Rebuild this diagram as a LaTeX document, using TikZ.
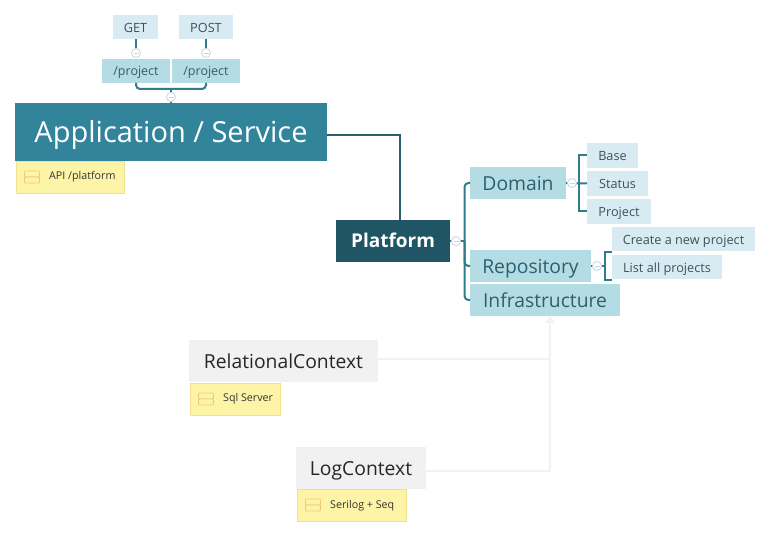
\documentclass[tikz,border=0pt]{standalone}
\usepackage{fontspec}
\setmainfont{Open Sans}
\usetikzlibrary{arrows.meta,calc}
\definecolor{rootc}{HTML}{1F5565}
\definecolor{appc}{HTML}{32849B}
\definecolor{midc}{HTML}{B4DCE5}
\definecolor{lowc}{HTML}{D9EBF2}
\definecolor{greyc}{HTML}{F1F1F2}
\definecolor{notec}{HTML}{FDF4A8}
\definecolor{noteb}{HTML}{F2E08E}
\definecolor{iconc}{HTML}{F2C778}
\definecolor{linec}{HTML}{2E7C8C}
\definecolor{darkl}{HTML}{2A5F70}
\definecolor{textc}{HTML}{2C5F70}
\definecolor{lowt}{HTML}{38545F}
\definecolor{ghost}{HTML}{F1F2F2}
\definecolor{knob}{HTML}{C9D5E2}
\tikzset{
  box/.style={inner sep=0pt,outer sep=0pt,minimum width=#1,text depth=0pt},
  roottopic/.style={box=114pt,minimum height=42pt,text height=13pt,fill=rootc,text=white,font=\fontsize{19}{19}\selectfont\bfseries},
  apptopic/.style={box=312pt,minimum height=58pt,text height=22pt,fill=appc,text=white,font=\fontsize{29}{29}\selectfont},
  midtopic/.style={box=#1,minimum height=32pt,text height=15pt,fill=midc,text=textc,font=\fontsize{19.3}{19.3}\selectfont},
  smalltopic/.style={box=68pt,minimum height=24pt,text height=10pt,fill=midc,text=textc,font=\fontsize{12.5}{12.5}\selectfont},
  leaf/.style={box=#1,text height=10.5pt,fill=lowc,text=lowt,font=\fontsize{12.7}{12.7}\selectfont},
  greytopic/.style={box=#1,minimum height=42pt,text height=15pt,fill=greyc,text=black!85,font=\fontsize{19.3}{19.3}\selectfont},
  notebox/.style={box=#1,minimum height=32pt,fill=notec,draw=noteb,line width=.7pt},
  notetext/.style={inner sep=0pt,text=black!80,font=\fontsize{10.7}{10.7}\selectfont,anchor=base west},
  collapse/.style={circle,inner sep=0pt,minimum size=9pt,draw=knob,fill=white,line width=.8pt,
    path picture={\draw[knob,line width=.8pt] ($(path picture bounding box.center)+(-2.5pt,0)$) -- ($(path picture bounding box.center)+(2.5pt,0)$);}},
  branch/.style={draw=linec,line width=2pt,rounded corners=#1},
  branch/.default=4pt,
  ghostline/.style={draw=ghost,line width=2.2pt},
  iconbar/.style={draw=iconc,fill=notec,line width=.9pt,rounded corners=1pt}
}
\begin{document}
\begin{tikzpicture}[x=1pt,y=-1pt]
\useasboundingbox[fill=white] (0,0) rectangle (772,537);
\coordinate (pb) at (464.5,241);
\coordinate (db) at (579,183);
\coordinate (rb) at (605,266);
\coordinate (ab) at (171,89);
\coordinate (gj) at (550,359);
\coordinate (appout) at (327,135);
\coordinate (appbend) at (400,135);
\coordinate (platin) at (400,220);
\coordinate (getc) at (136,49);
\coordinate (postc) at (206,49);
\coordinate (gett) at (136,39);
\coordinate (postt) at (206,39);
\coordinate (lst) at (612,252);
\coordinate (lsb) at (612,280);
\coordinate (logout) at (426,471);
\coordinate (arrowtip) at (550,316);
% topics
\node[apptopic] (app) at (171,132) {Application / Service};
\node[roottopic] (plat) at (393,241) {Platform};
\node[smalltopic] (p1) at (136,71) {/project};
\node[smalltopic] (p2) at (206,71) {/project};
\node[leaf=45pt,minimum height=24pt] (get) at (135.5,27) {GET};
\node[leaf=54pt,minimum height=24pt] (post) at (206,27) {POST};
\node[midtopic=96pt] (dom) at (518,183) {Domain};
\node[midtopic=121pt] (rep) at (530.5,266) {Repository};
\node[midtopic=150pt] (inf) at (545,300) {Infrastructure};
\node[leaf=51pt,minimum height=25pt] (base) at (612.5,155.5) {Base};
\node[leaf=61pt,minimum height=25pt] (stat) at (617.5,183.5) {Status};
\node[leaf=64pt,minimum height=25pt] (proj) at (619,211.5) {Project};
\node[leaf=143pt,minimum height=24pt] (newp) at (683.5,239) {Create a new project};
\node[leaf=110pt,minimum height=24pt] (listp) at (667,267) {List all projects};
\node[greytopic=189pt] (rel) at (283.5,361.5) {RelationalContext};
\node[greytopic=130pt] (logc) at (361,468) {LogContext};
% notes
\node[notebox=108pt] (n1) at (70,177) {};
\node[notetext] (n1t) at (49,180) {API /platform};
\node[notebox=90pt] (n2) at (235.5,399) {};
\node[notetext] (n2t) at (223,402) {Sql Server};
\node[notebox=109pt] (n3) at (352,505) {};
\node[notetext] (n3t) at (330,508) {Serilog + Seq};
\foreach \ix/\iy in {32/177,206/399,313/505}{
  \draw[iconbar] (\ix-7.5,\iy-6) rectangle (\ix+7.5,\iy);
  \draw[iconbar] (\ix-7.5,\iy) rectangle (\ix+7.5,\iy+6);
}
% connectors
\draw[draw=darkl,line width=2pt] (appout) -- (appbend) -- (platin);
\draw[branch] (p1.south) |- (ab) -| (p2.south);
\draw[branch=0pt] (ab) -- (app.north);
\draw[branch=0pt] (gett) -- (getc);
\draw[branch=0pt] (postt) -- (postc);
\draw[branch] (dom.west) -| (pb) |- (inf.west);
\draw[branch] (rep.west) -| (pb);
\draw[branch=0pt] (plat.east) -- (pb);
\draw[branch=0pt] (base.west) -| (db) |- (proj.west);
\draw[branch=0pt] (dom.east) -- (stat.west);
\draw[branch=0pt] (rep.east) -- (rb);
\draw[branch=0pt] (lst) -| (rb) |- (lsb);
\node[collapse] (c1) at (136,53) {};
\node[collapse] (c2) at (206,53) {};
\node[collapse] (c3) at (171,97) {};
\node[collapse] (c4) at (456,241) {};
\node[collapse] (c5) at (572,183) {};
\node[collapse] (c6) at (597,266) {};
% ghost connectors
\draw[ghostline] (rel.east |- gj) -- (gj);
\draw[ghostline,-{Triangle[length=7pt,width=10pt]}] (logout) -| (arrowtip);
\end{tikzpicture}
\end{document}
